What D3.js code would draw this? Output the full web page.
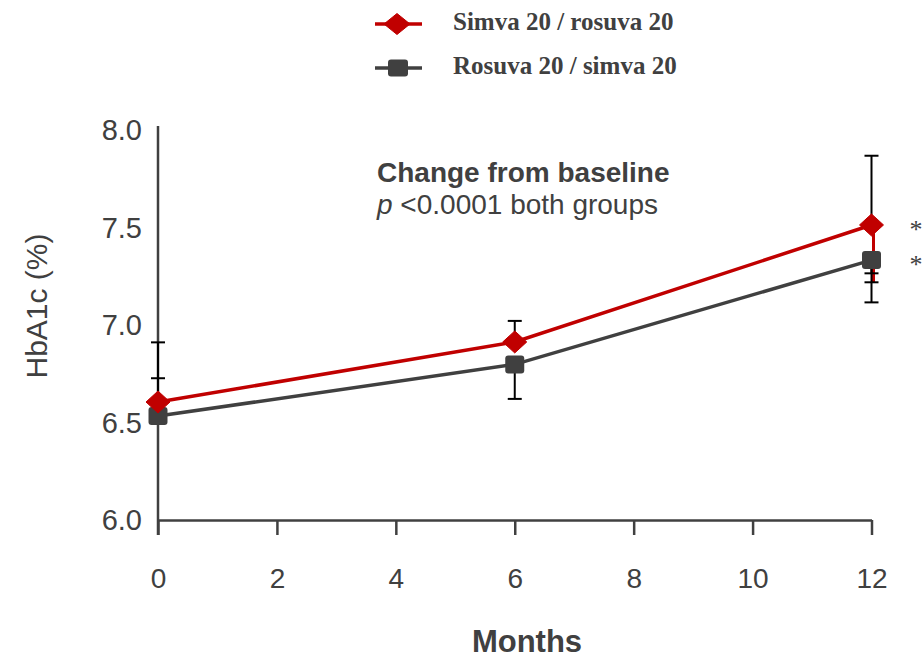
<!DOCTYPE html>
<html>
<head>
<meta charset="utf-8">
<script src="https://cdn.jsdelivr.net/npm/d3@7"></script>
<style>
  html, body { margin: 0; padding: 0; background: #fff; }
  svg { display: block; }
</style>
</head>
<body>
<svg id="chart" width="922" height="660"></svg>
<script>
// HbA1c over time for the two crossover sequences
const months = [0, 6, 12];
const simvaRosuva = [6.605, 6.913, 7.513];   // Simva 20 / rosuva 20
const rosuvaSimva = [6.533, 6.798, 7.333];   // Rosuva 20 / simva 20
const seriesNames = ["Simva 20 / rosuva 20", "Rosuva 20 / simva 20"];
const xTicks = [0, 2, 4, 6, 8, 10, 12];
const yTicks = [6.0, 6.5, 7.0, 7.5, 8.0];

// error bars: month, start value, end value, colour of the stem
const errorBars = [
  { m: 0,  from: 6.533, to: 6.911, stem: "#000" },
  { m: 0,  from: 6.605, to: 6.727, stem: "#000" },
  { m: 6,  from: 6.913, to: 7.021, stem: "#000" },
  { m: 6,  from: 6.798, to: 6.621, stem: "#000" },
  { m: 12, from: 7.513, to: 7.868, stem: "#000" },
  { m: 12, from: 7.513, to: 7.219, stem: "#C00000" },
  { m: 12, from: 7.333, to: 7.265, stem: "#000" },
  { m: 12, from: 7.333, to: 7.116, stem: "#000" }
];

const RED = "#C00000", DARK = "#404040", TEXT = "#404040";
const sans = "'Liberation Sans', Arial, sans-serif";
const serif = "'Liberation Serif', 'Times New Roman', serif";

const svg = d3.select("#chart");
const x = d3.scaleLinear().domain([0, 12]).range([158, 871.5]);
const y = d3.scaleLinear().domain([6, 8]).range([520, 130]);

// y axis line (no tick marks)
svg.append("line")
  .attr("x1", x(0)).attr("x2", x(0))
  .attr("y1", y(8) - 4).attr("y2", 535)
  .attr("stroke", DARK).attr("stroke-width", 2.5);

// x axis with downward ticks
const xAxis = svg.append("g").attr("transform", `translate(0,${y(6)})`)
  .call(d3.axisBottom(x).tickValues(xTicks).tickSize(15).tickSizeOuter(0).tickFormat(d3.format("d")));
xAxis.select(".domain").attr("stroke", DARK).attr("stroke-width", 2.5);
xAxis.selectAll(".tick line").attr("stroke", DARK).attr("stroke-width", 2.5);
xAxis.selectAll(".tick text")
  .attr("y", 68).attr("dy", 0)
  .attr("fill", TEXT).style("font-family", sans).style("font-size", "28px");

// y tick labels
svg.append("g").selectAll("text").data(yTicks).join("text")
  .attr("x", 142).attr("y", d => y(d) + 10)
  .attr("text-anchor", "end")
  .attr("fill", TEXT).style("font-family", sans).style("font-size", "29px")
  .text(d => d3.format(".1f")(d));

// axis titles
svg.append("text")
  .attr("transform", `translate(47,${306}) rotate(-90)`)
  .attr("text-anchor", "middle")
  .attr("fill", TEXT).style("font-family", sans).style("font-size", "30px")
  .text("HbA1c (%)");
svg.append("text")
  .attr("x", 527).attr("y", 652)
  .attr("text-anchor", "middle")
  .attr("fill", TEXT).style("font-family", sans).style("font-size", "31px").style("font-weight", "bold")
  .text("Months");

// annotation
svg.append("text")
  .attr("x", 377).attr("y", 182)
  .attr("fill", TEXT).style("font-family", sans).style("font-size", "28px").style("font-weight", "bold")
  .text("Change from baseline");
const note = svg.append("text")
  .attr("x", 377).attr("y", 214)
  .attr("fill", TEXT).style("font-family", sans).style("font-size", "28px");
note.append("tspan").style("font-style", "italic").text("p");
note.append("tspan").text(" <0.0001 both groups");

// lines
const line = d3.line().x(d => x(d[0])).y(d => y(d[1]));
const redPts = months.map((m, i) => [m, simvaRosuva[i]]);
const darkPts = months.map((m, i) => [m, rosuvaSimva[i]]);

svg.append("path").datum(darkPts).attr("d", line)
  .attr("fill", "none").attr("stroke", DARK).attr("stroke-width", 3.5);
svg.append("path").datum(redPts).attr("d", line)
  .attr("fill", "none").attr("stroke", RED).attr("stroke-width", 3.5);

// error bars
const eb = svg.append("g");
errorBars.forEach(e => {
  const cx = x(e.m) + (e.stem === RED ? 2 : 0);
  eb.append("line")
    .attr("x1", cx).attr("x2", cx)
    .attr("y1", y(e.from)).attr("y2", y(e.to))
    .attr("stroke", e.stem).attr("stroke-width", e.stem === RED ? 3 : 2);
  eb.append("line")
    .attr("x1", x(e.m) - 7).attr("x2", x(e.m) + 7)
    .attr("y1", y(e.to)).attr("y2", y(e.to))
    .attr("stroke", "#000").attr("stroke-width", 2);
});

// markers
const diamond = (g, cx, cy, w, h) => g.append("path")
  .attr("d", `M${cx},${cy - h / 2}L${cx + w / 2},${cy}L${cx},${cy + h / 2}L${cx - w / 2},${cy}Z`)
  .attr("fill", RED).attr("stroke", RED).attr("stroke-width", 1).attr("stroke-linejoin", "round");
const square = (g, cx, cy, w, h) => g.append("rect")
  .attr("x", cx - w / 2).attr("y", cy - h / 2).attr("width", w).attr("height", h)
  .attr("rx", 3).attr("fill", DARK);

const mk = svg.append("g");
darkPts.forEach(d => square(mk, x(d[0]), y(d[1]), 19, 18));
redPts.forEach(d => diamond(mk, x(d[0]), y(d[1]), 24, 22));

// significance marks
svg.append("g").selectAll("text").data([simvaRosuva[2], rosuvaSimva[2]]).join("text")
  .attr("x", 916).attr("y", d => y(d) + 13)
  .attr("text-anchor", "middle")
  .attr("fill", TEXT).style("font-family", serif).style("font-size", "26px")
  .text("*");

// legend
const legend = svg.append("g");
const legendRows = [
  { name: seriesNames[0], color: RED, cy: 24, marker: "diamond" },
  { name: seriesNames[1], color: DARK, cy: 68, marker: "square" }
];
legendRows.forEach(r => {
  legend.append("line")
    .attr("x1", 375).attr("x2", 422).attr("y1", r.cy).attr("y2", r.cy)
    .attr("stroke", r.color).attr("stroke-width", 3.5);
  if (r.marker === "diamond") diamond(legend, 397, r.cy, 26, 21);
  else square(legend, 398, r.cy, 20, 17);
  legend.append("text")
    .attr("x", 453).attr("y", r.cy + 6)
    .attr("fill", TEXT).style("font-family", serif).style("font-size", "25px").style("font-weight", "bold")
    .text(r.name);
});
</script>
</body>
</html>
